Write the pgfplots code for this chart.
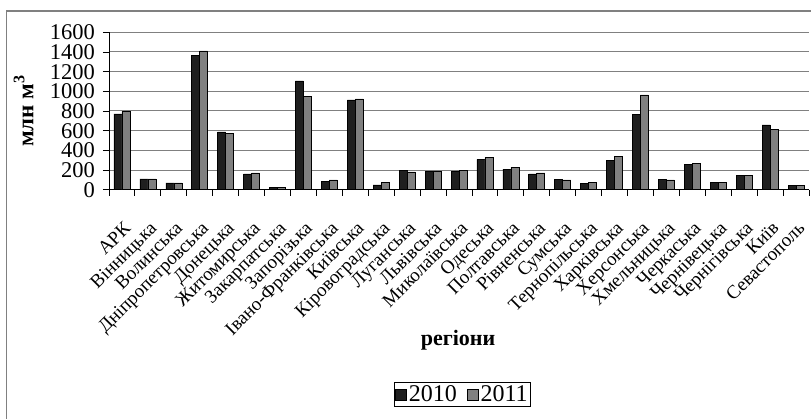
\documentclass[border=0pt]{standalone}
\usepackage{fontspec}
\setmainfont{Liberation Serif}
\usepackage{pgfplots}
\pgfplotsset{compat=1.18}
\begin{document}
\begin{tikzpicture}
\useasboundingbox (0,0) rectangle (811pt,-419pt);
\draw[color=black!50, line width=1.3pt] (6.5pt,-430pt) -- (6.5pt,-11pt) -- (820pt,-11pt);
\begin{axis}[
  at={(109pt,-189.7pt)}, anchor=south west,
  scale only axis, width=700pt, height=157.4pt,
  xmin=-0.5, xmax=26.5, ymin=0, ymax=1600,
  ybar=0pt, bar width=0.3085,
  axis x line*=bottom, axis y line*=left,
  axis line style={black, line width=0.9pt},
  xtick={0,...,26},
  xticklabels={АРК,Вінницька,Волинська,Дніпропетровська,Донецька,Житомирська,Закарпатська,Запорізька,Івано-Франківська,Київська,Кіровоградська,Луганська,Львівська,Миколаївська,Одеська,Полтавська,Рівненська,Сумська,Тернопільська,Харківська,Херсонська,Хмельницька,Черкаська,Чернівецька,Чернігівська,Київ,Севастополь},
  minor xtick={-0.5,0.5,...,26.5},
  major x tick style={draw=none},
  minor x tick style={black, line width=0.9pt},
  minor tick length=6pt,
  ytick={0,200,...,1600},
  major y tick style={black, line width=0.9pt},
  major tick length=6pt,
  tick align=outside,
  ymajorgrids,
  grid style={black!50, line width=1pt},
  /pgf/number format/assume math mode=true,
  /pgf/number format/set thousands separator={},
  xticklabel style={rotate=45, anchor=north east, inner sep=0pt, xshift=-17pt, yshift=-18pt, font=\fontsize{19}{19}\selectfont},
  yticklabel style={font=\fontsize{22.5}{22.5}\selectfont, inner sep=1pt, xshift=-7pt},
  xlabel={\bfseries регіони},
  xlabel style={at={(axis description cs:0.4986,-0.955)}, anchor=center, font=\fontsize{22}{22}\selectfont},
  ylabel={\bfseries млн м\textsuperscript{3}},
  ylabel style={at={(axis description cs:-0.122,0.5)}, anchor=center, font=\fontsize{23}{23}\selectfont},
  legend style={at={(axis description cs:0.505,-1.301)}, anchor=center, draw=black, line width=0.8pt,
    font=\fontsize{24}{24}\selectfont, inner sep=1pt, legend columns=2,
    /tikz/every even column/.append style={column sep=8pt}},
  legend image code/.code={\draw[#1, line width=0.6pt] (0pt,-5.5pt) rectangle (11pt,5.5pt);},
]
\addplot[draw=black, line width=0.6pt, fill=black!88] coordinates {
(0,770) (1,110) (2,70) (3,1369) (4,587) (5,160) (6,27) (7,1105) (8,88) (9,912)
(10,48) (11,197) (12,183) (13,185) (14,309) (15,210) (16,160) (17,102) (18,61)
(19,299) (20,769) (21,102) (22,254) (23,74) (24,146) (25,658) (26,45)};
\addplot[draw=black, line width=0.6pt, fill=black!50] coordinates {
(0,795) (1,110) (2,70) (3,1410) (4,573) (5,170) (6,25) (7,945) (8,99) (9,922)
(10,71) (11,180) (12,183) (13,195) (14,325) (15,228) (16,170) (17,100) (18,75)
(19,340) (20,963) (21,100) (22,268) (23,72) (24,143) (25,614) (26,45)};
\legend{2010,2011}
\end{axis}
\end{tikzpicture}
\end{document}
